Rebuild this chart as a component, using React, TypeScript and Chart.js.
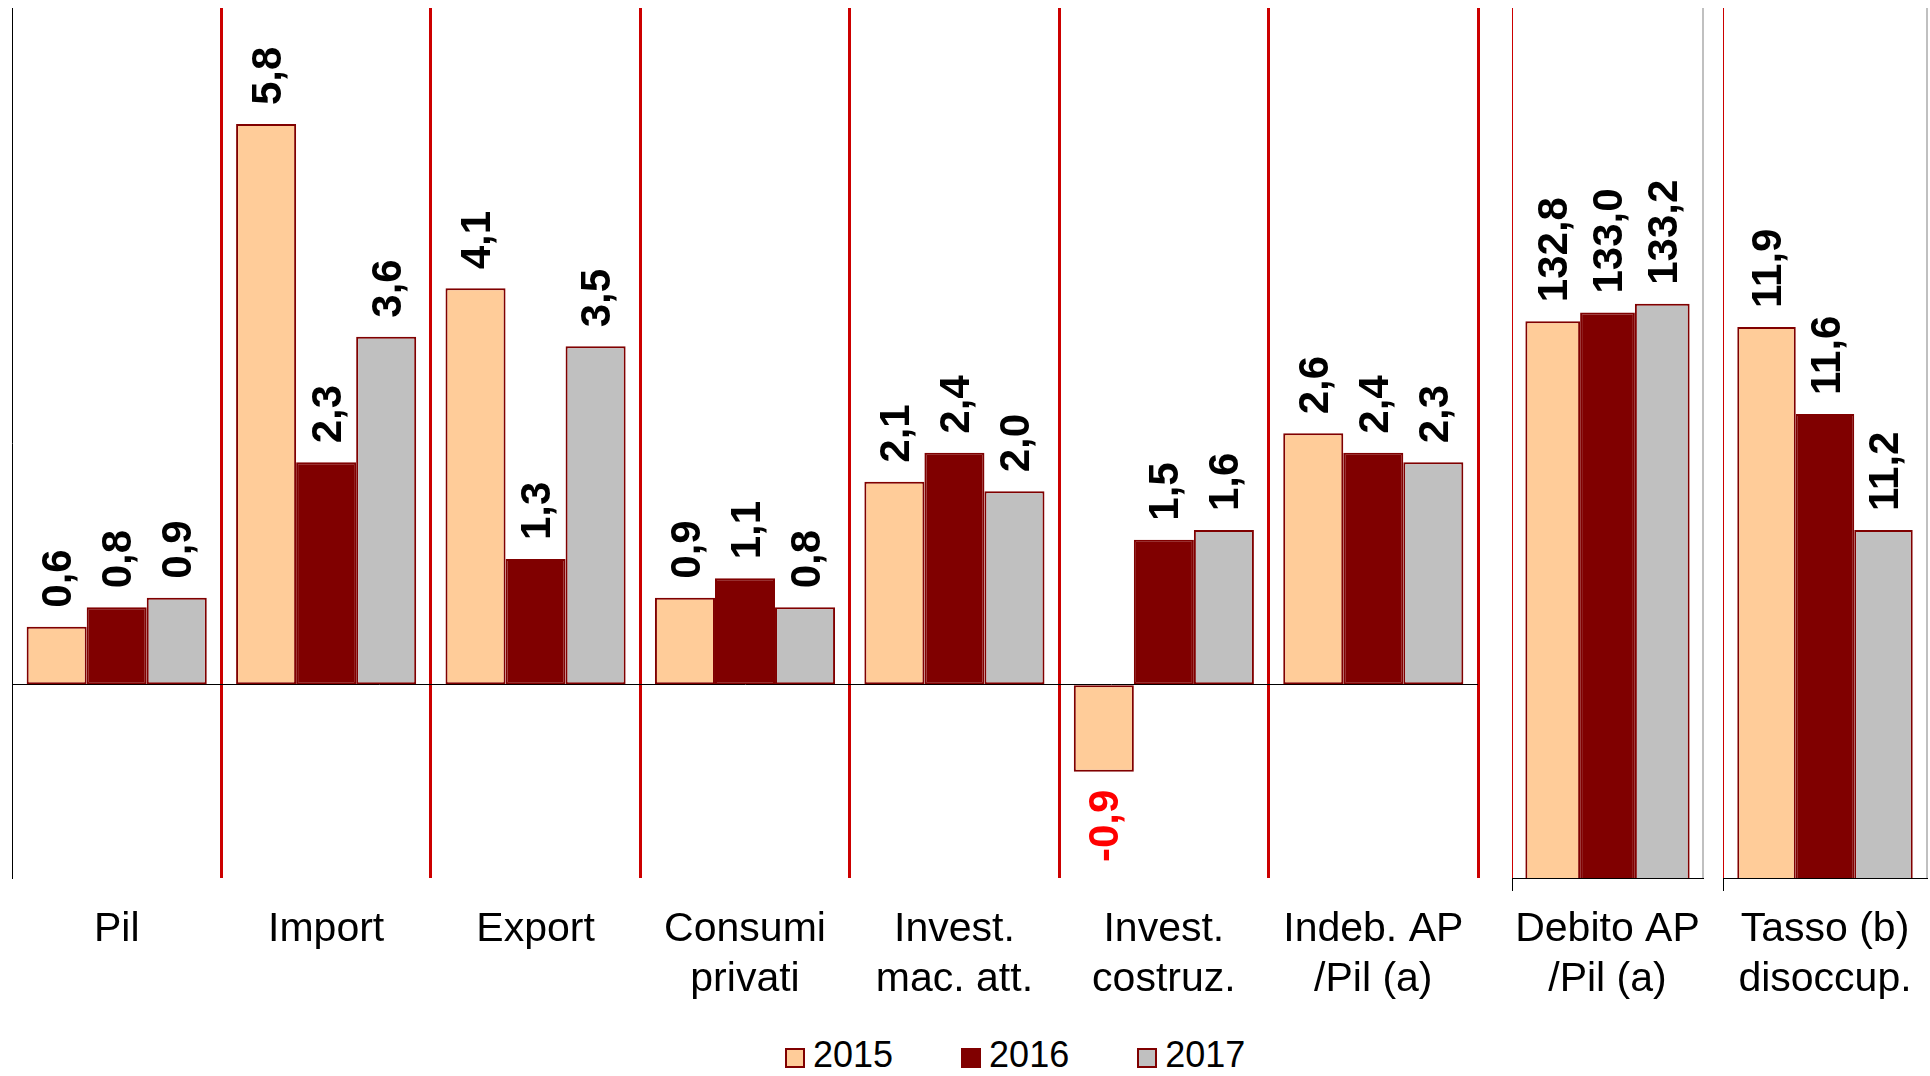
import React, { useEffect, useRef } from 'react';
import { Chart, registerables } from 'chart.js';

Chart.register(...registerables);

// ---- Data ----
const categories: string[][] = [
  ['Pil'],
  ['Import'],
  ['Export'],
  ['Consumi', 'privati'],
  ['Invest.', 'mac. att.'],
  ['Invest.', 'costruz.'],
  ['Indeb. AP', '/Pil (a)'],
];
const years = ['2015', '2016', '2017'];
const values2015 = [0.6, 5.8, 4.1, 0.9, 2.1, -0.9, 2.6];
const values2016 = [0.8, 2.3, 1.3, 1.1, 2.4, 1.5, 2.4];
const values2017 = [0.9, 3.6, 3.5, 0.8, 2.0, 1.6, 2.3];

const debitoCategory: string[][] = [['Debito AP', '/Pil (a)']];
const debitoValues = [132.8, 133.0, 133.2];

const tassoCategory: string[][] = [['Tasso (b)', 'disoccup.']];
const tassoValues = [11.9, 11.6, 11.2];

const mainRange = [-2, 7];
const debitoRange = [120, 140];
const tassoRange = [10, 13];

const fillColors = ['#FFCC99', '#800000', '#C0C0C0'];
const barBorder = '#800000';
const sepRed = '#CC0000';
const FONT = '"Liberation Sans", Arial, Helvetica, sans-serif';

const valueLabels = {
  id: 'valueLabels',
  afterDatasetsDraw(chart: any) {
    const ctx = chart.ctx as CanvasRenderingContext2D;
    ctx.save();
    ctx.font = `bold 42px ${FONT}`;
    ctx.textBaseline = 'middle';
    chart.data.datasets.forEach((ds: any, i: number) => {
      const meta = chart.getDatasetMeta(i);
      meta.data.forEach((bar: any, j: number) => {
        const v = ds.data[j] as number;
        const txt = v.toFixed(1).replace('.', ',');
        const neg = v < 0;
        ctx.save();
        ctx.translate(bar.x, neg ? bar.y + 18 : bar.y - 19);
        ctx.rotate(-Math.PI / 2);
        ctx.textAlign = neg ? 'right' : 'left';
        ctx.fillStyle = neg ? '#FF0000' : '#000000';
        ctx.fillText(txt, 0, 3);
        ctx.restore();
      });
    });
    ctx.restore();
  },
};

function datasetsFrom(series: number[][]) {
  return years.map((y, i) => ({
    label: y,
    data: series[i],
    backgroundColor: fillColors[i],
    borderColor: barBorder,
    borderWidth: 2,
    borderSkipped: false as const,
    categoryPercentage: 0.86,
    barPercentage: 1,
  }));
}

const tickFont = { family: FONT, size: 41, lineHeight: 1.22 };

function mainConfig(): any {
  return {
    type: 'bar',
    data: { labels: categories, datasets: datasetsFrom([values2015, values2016, values2017]) },
    options: {
      responsive: false,
      animation: false,
      layout: { padding: { left: 12, right: 80, top: 8, bottom: 0 } },
      plugins: { legend: { display: false }, tooltip: { enabled: false } },
      scales: {
        x: {
          offset: true,
          grid: {
            offset: true,
            drawTicks: false,
            color: (c: any) => (c.index === 0 ? 'rgba(0,0,0,0)' : sepRed),
            lineWidth: 3,
          },
          border: { display: false },
          ticks: { padding: 27, color: '#000', font: tickFont, maxRotation: 0, autoSkip: false },
          afterFit: (s: any) => { s.height = 130; },
        },
        y: {
          min: mainRange[0],
          max: mainRange[1],
          ticks: { display: false, stepSize: 1 },
          grid: {
            drawTicks: false,
            color: (c: any) => (c.tick && c.tick.value === 0 ? '#000' : 'rgba(0,0,0,0)'),
            lineWidth: 1,
          },
          border: { display: true, color: '#000', width: 1 },
        },
      },
    },
    plugins: [valueLabels],
  };
}

function sideConfig(labels: string[][], values: number[], range: number[]): any {
  return {
    type: 'bar',
    data: { labels, datasets: datasetsFrom(values.map((v) => [v])) },
    options: {
      responsive: false,
      animation: false,
      layout: { padding: { left: 80, right: 80, top: 8, bottom: 0 } },
      plugins: { legend: { display: false }, tooltip: { enabled: false } },
      scales: {
        x: {
          offset: true,
          grid: {
            offset: true,
            drawTicks: true,
            tickLength: 13,
            color: (c: any) => (c.index === 0 ? sepRed : '#C0C0C0'),
            lineWidth: (c: any) => (c.index === 0 ? 1 : 2),
            tickColor: (c: any) => (c.index === 0 ? '#000' : 'rgba(0,0,0,0)'),
            tickWidth: 1,
          },
          border: { display: true, color: '#000', width: 1 },
          ticks: { padding: 14, color: '#000', font: tickFont, maxRotation: 0, autoSkip: false },
          afterFit: (s: any) => { s.height = 130; },
        },
        y: {
          display: false,
          min: range[0],
          max: range[1],
        },
      },
    },
    plugins: [valueLabels],
  };
}

function ChartCanvas(props: { config: () => any; left: number; width: number; height: number }) {
  const ref = useRef<HTMLCanvasElement | null>(null);
  useEffect(() => {
    if (!ref.current) return;
    const chart = new Chart(ref.current, props.config());
    return () => chart.destroy();
  }, []);
  return (
    <canvas
      ref={ref}
      width={props.width}
      height={props.height}
      style={{ position: 'absolute', left: props.left, top: 0, width: props.width, height: props.height }}
    />
  );
}

export default function App() {
  return (
    <div
      style={{
        position: 'absolute',
        left: 0,
        top: 0,
        width: 1930,
        height: 1076,
        overflow: 'hidden',
        background: '#fff',
      }}
    >
      <ChartCanvas config={mainConfig} left={0} width={1558} height={1008} />
      <ChartCanvas config={() => sideConfig(debitoCategory, debitoValues, debitoRange)} left={1432} width={351} height={1008} />
      <ChartCanvas config={() => sideConfig(tassoCategory, tassoValues, tassoRange)} left={1643} width={364} height={1008} />
      <div style={{ position: 'absolute', left: 785, top: 1037, display: 'flex', gap: 68 }}>
        {years.map((y, i) => (
          <div key={y} style={{ display: 'flex', alignItems: 'flex-end' }}>
            <span
              style={{
                display: 'inline-block',
                width: 20,
                height: 20,
                boxSizing: 'border-box',
                border: `2px solid ${barBorder}`,
                background: fillColors[i],
                marginRight: 8,
                marginBottom: 5,
              }}
            />
            <span style={{ font: `36px ${FONT}`, lineHeight: '36px', color: '#000' }}>{y}</span>
          </div>
        ))}
      </div>
    </div>
  );
}
